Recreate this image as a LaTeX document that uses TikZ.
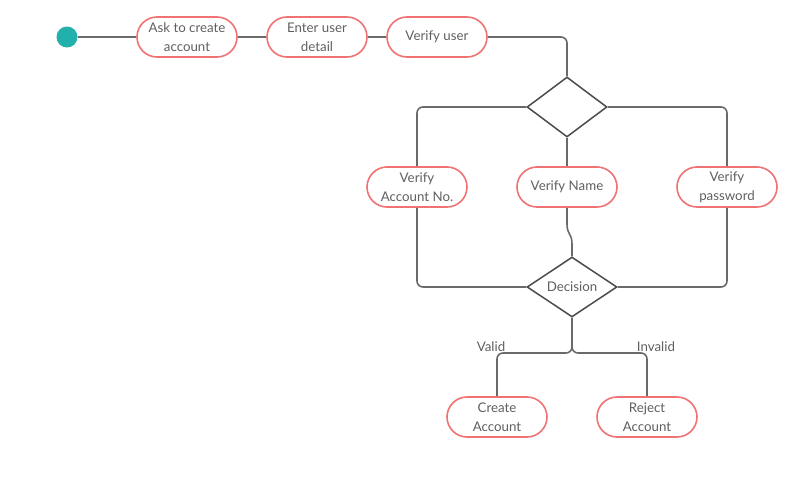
\documentclass[tikz,border=0pt]{standalone}
\usepackage{fontspec}
\setmainfont{Lato}
\usepackage{tikz}
\usetikzlibrary{shapes.geometric,arrows}
\definecolor{pillred}{HTML}{F07272}
\definecolor{wire}{HTML}{6A6A6A}
\definecolor{labelgray}{HTML}{606060}
\definecolor{startteal}{HTML}{22B0AC}

\begin{document}
\begin{tikzpicture}[x=1pt,y=-1pt]
			\tikzset{every node/.style={align=center,font=\fontsize{13.3}{19}\selectfont,text=labelgray}}
			
			\tikzset{activity/.style = {shape=rectangle,rounded corners=20pt,draw=pillred,line width=1.6pt,fill=white,minimum width=100pt,minimum height=40pt,inner sep=0pt}}
			
			\tikzset{choice/.style = {shape=diamond,draw=black!70,line width=1.5pt,fill=white,aspect=1.5,inner sep=0pt}}
			
			\tikzset{wire/.style = {-,draw=wire,line width=1.6pt,rounded corners=6pt}}
			
			\useasboundingbox (0,0) rectangle (807,482);
			
			% bend points of the connectors
			\coordinate (bendtop) at (567,37);
			\coordinate (nametail) at (567,224);
			\coordinate (namehead) at (572,244);
			\coordinate (fork) at (572,353);
			
			% vertices
			
			\node[circle,fill=startteal,minimum size=21pt,inner sep=0pt] (start) at (67,37) {};
			
			\node[activity] (ask) at (187,37) {Ask to create\\account};
			
			\node[activity] (enter) at (317,37) {Enter user\\detail};
			
			\node[activity] (verify) at (437,37) {Verify user};
			
			\node[choice,minimum width=80pt,minimum height=60pt] (split) at (567,107) {};
			
			\node[activity] (accno) at (417,187) {Verify\\Account No.};
			
			\node[activity] (vname) at (567,187) {Verify Name};
			
			\node[activity] (vpass) at (727,187) {Verify\\password};
			
			\node[choice,minimum width=90pt,minimum height=60pt] (dec) at (572,287) {Decision};
			
			\node[activity] (create) at (497,417) {Create\\Account};
			
			\node[activity] (reject) at (647,417) {Reject\\Account};
			
			%edges
			
			\draw[wire] (start) -- (ask);
			\draw[wire] (ask) -- (enter);
			\draw[wire] (enter) -- (verify);
			\draw[wire] (verify.east) -- (bendtop) -- (split.north);
			\draw[wire] (split.west) -| (accno.north);
			\draw[wire] (split.east) -| (vpass.north);
			\draw[wire] (split.south) -- (vname.north);
			\draw[wire] (accno.south) |- (dec.west);
			\draw[wire] (vpass.south) |- (dec.east);
			\draw[wire,rounded corners=0pt] (vname.south) -- (nametail) .. controls (567,235) and (572,233) .. (namehead) -- (dec.north);
			\draw[wire] (dec.south) -- (fork) -| (create.north);
			\draw[wire] (dec.south) -- (fork) -| (reject.north);
			
			\node (valid) at (491,347) {Valid};
			\node (invalid) at (656,347) {Invalid};
			\end{tikzpicture}
\end{document}
